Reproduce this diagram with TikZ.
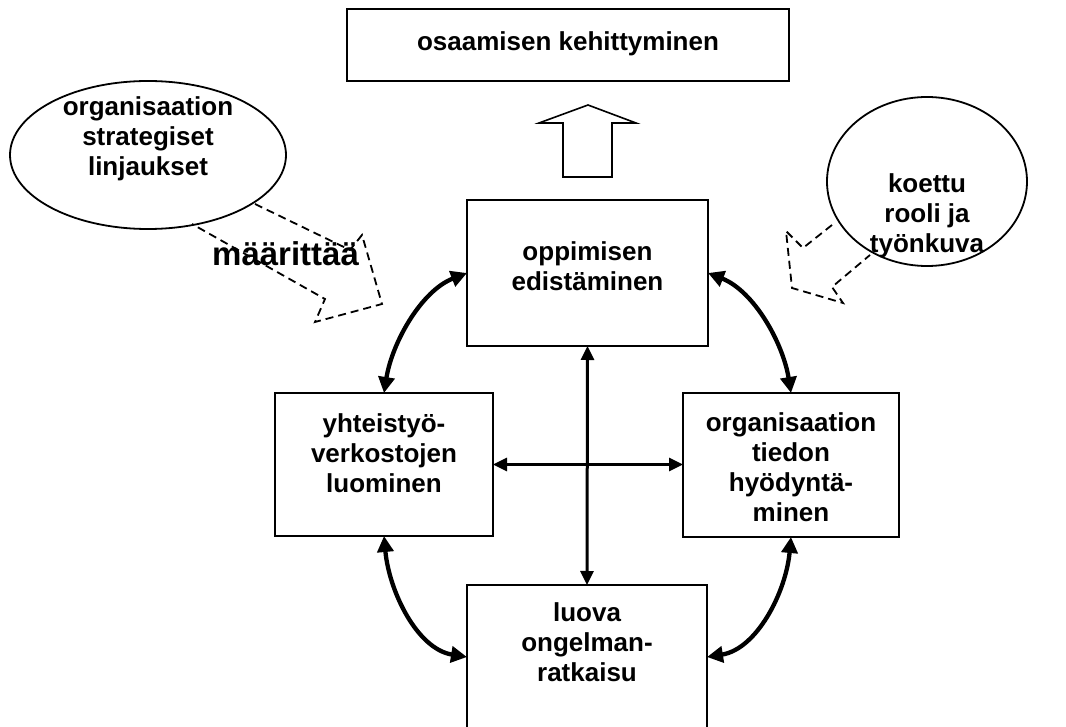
\documentclass[tikz,border=0pt]{standalone}
\usepackage{fontspec}
\setmainfont{Liberation Sans}
\usetikzlibrary{arrows.meta,shapes.geometric,calc}

\begin{document}
\begin{tikzpicture}[x=1pt,y=-1pt,
  box/.style={draw,line width=1.6pt,inner sep=0pt,outer sep=0pt},
  oval/.style={draw,ellipse,line width=1.8pt,inner sep=0pt,outer sep=0pt},
  txt/.style={font=\bfseries\fontsize{26}{30}\selectfont,align=center,inner sep=0pt},
  straight/.style={line width=3pt,{Triangle[length=14pt,width=13pt]}-{Triangle[length=14pt,width=13pt]}},
  curved/.style={line width=4.3pt,{Triangle[length=16pt,width=16pt]}-{Triangle[length=16pt,width=16pt]}},
  dashline/.style={line width=1.8pt,dash pattern=on 8pt off 5pt,line join=miter}]

\clip (0,0) rectangle (1066,727);

% boxes
\node[box,minimum width=442pt,minimum height=72pt] (top) at (568,45) {};
\node[txt] (toptxt) at (568,44) {osaamisen kehittyminen};

\node[box,minimum width=241pt,minimum height=146pt] (mb) at (587.5,273) {};
\node[txt] (mbtxt) at (587.5,266) {oppimisen\\edistäminen};

\node[box,minimum width=218pt,minimum height=143pt] (lb) at (384,464.5) {};
\node[txt] (lbtxt) at (384,453) {yhteistyö-\\verkostojen\\luominen};

\node[box,minimum width=216pt,minimum height=144pt] (rb) at (791,465) {};
\node[txt] (rbtxt) at (791,467) {organisaation\\tiedon\\hyödyntä-\\minen};

\node[box,minimum width=240pt,minimum height=144pt] (bb) at (587,657) {};
\node[txt] (bbtxt) at (587,642) {luova\\ongelman-\\ratkaisu};

% ellipses
\node[oval,minimum width=276pt,minimum height=148pt] (le) at (148,155) {};
\node[txt] (letxt) at (148,139) {organisaation\\strategiset\\linjaukset};

\node[oval,minimum width=200pt,minimum height=169pt] (re) at (927,181.5) {};
\node[txt] (retxt) at (927,216) {koettu\\rooli ja\\työnkuva};

% hollow block arrow above the learning box
\draw[line width=1.6pt,line join=miter] (563,177) -- (563,123) -- (539,123) -- (588,105)
  -- (636,123) -- (612,123) -- (612,177) -- cycle;

% dashed block arrows from the ellipses
\draw[dashline] (255,204) -- (350,250) -- (362,235) -- (382,304) -- (315,322) -- (325,299) -- (192,224);
\draw[dashline] (832,225) -- (803,248) -- (786,231) -- (792,288) -- (843,303) -- (832,287) -- (870,255);

\node[font=\bfseries\fontsize{33}{37}\selectfont,anchor=base west,inner sep=0pt] (maar) at (212,266) {määrittää};

% straight connectors
\draw[straight] (mb.south) -- (bb.north);
\draw[straight] (lb.east) -- (rb.west |- lb.east);

% curved connectors
\draw[curved] (lb.north) .. controls +(8,-50) and +(-46,18) .. (mb.west);
\draw[curved] (rb.north) .. controls +(-8,-50) and +(46,18) .. (mb.east);
\draw[curved] (lb.south) .. controls +(5,55) and +(-50,-8) .. (bb.west);
\draw[curved] (rb.south) .. controls +(-5,55) and +(50,-8) .. (bb.east);

\end{tikzpicture}
\end{document}
